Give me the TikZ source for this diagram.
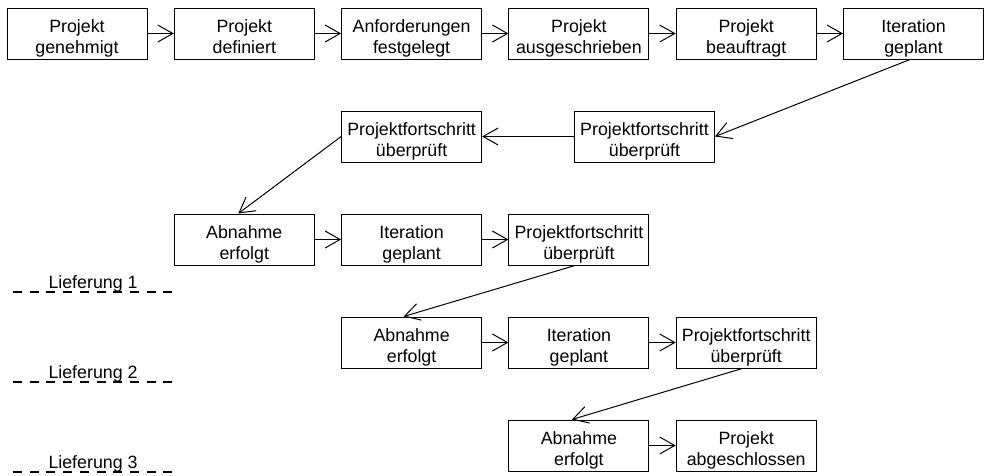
\documentclass[tikz,border=0pt]{standalone}
\usepackage{fontspec}
\setmainfont{Liberation Sans}
\usetikzlibrary{arrows.meta,calc}
\tikzset{
  box/.style={draw, line width=1pt, minimum width=140pt, minimum height=51pt,
    inner sep=0pt, align=center, font=\fontsize{17.8}{21}\selectfont,
    text height=43pt, text depth=4pt},
  conn/.style={line width=1pt, -{Straight Barb[length=15pt,width=17pt,line width=1pt]}},
  deliv/.style={line width=1.3pt, dash pattern=on 9pt off 7.7pt},
  dlabel/.style={anchor=base west, inner sep=0pt, font=\fontsize{17.8}{21}\selectfont}
}
\begin{document}
\begin{tikzpicture}[x=1pt,y=-1pt]
\useasboundingbox (0,0) rectangle (984,475);
% row 1
\node[box] (a1) at (77,33.5) {Projekt\\genehmigt};
\node[box] (a2) at (244.3,33.5) {Projekt\\definiert};
\node[box] (a3) at (411.6,33.5) {Anforderungen\\festgelegt};
\node[box] (a4) at (578.9,33.5) {Projekt\\ausgeschrieben};
\node[box] (a5) at (746.2,33.5) {Projekt\\beauftragt};
\node[box] (a6) at (913.5,33.5) {Iteration\\geplant};
% row 2
\node[box] (b1) at (644.5,136.5) {Projektfortschritt\\überprüft};
\node[box] (b2) at (411.6,136.5) {Projektfortschritt\\überprüft};
% row 3
\node[box] (c1) at (244.3,239.5) {Abnahme\\erfolgt};
\node[box] (c2) at (411.6,239.5) {Iteration\\geplant};
\node[box] (c3) at (578.9,239.5) {Projektfortschritt\\überprüft};
% row 4
\node[box] (d1) at (411.6,342.5) {Abnahme\\erfolgt};
\node[box] (d2) at (578.9,342.5) {Iteration\\geplant};
\node[box] (d3) at (746.2,342.5) {Projektfortschritt\\überprüft};
% row 5
\node[box] (e1) at (578.9,445.5) {Abnahme\\erfolgt};
\node[box] (e2) at (746.2,445.5) {Projekt\\abgeschlossen};
% horizontal connectors
\draw[conn] (a1.east) -- (a2.west);
\draw[conn] (a2.east) -- (a3.west);
\draw[conn] (a3.east) -- (a4.west);
\draw[conn] (a4.east) -- (a5.west);
\draw[conn] (a5.east) -- (a6.west);
\draw[conn] (b1.west) -- (b2.east);
\draw[conn] (c1.east) -- (c2.west);
\draw[conn] (c2.east) -- (c3.west);
\draw[conn] (d1.east) -- (d2.west);
\draw[conn] (d2.east) -- (d3.west);
\draw[conn] (e1.east) -- (e2.west);
% diagonal connectors
\draw[conn] ($(a6.south)+(-3.5,0)$) -- (b1.east);
\draw[conn] (b2.west) -- ($(c1.north)+(-6,0)$);
\draw[conn] ($(c3.south)+(-4,0)$) -- ($(d1.north)+(-8,0)$);
\draw[conn] ($(d3.south)+(-4,0)$) -- ($(e1.north)+(-7,0)$);
% deliveries
\coordinate (l1s) at (13,292); \coordinate (l1e) at (173,292);
\coordinate (l2s) at (13,382); \coordinate (l2e) at (173,382);
\coordinate (l3s) at (13,472); \coordinate (l3e) at (173,472);
\draw[deliv] (l1s) -- (l1e);
\draw[deliv] (l2s) -- (l2e);
\draw[deliv] (l3s) -- (l3e);
\node[dlabel] (l1) at (48.3,288.3) {Lieferung 1};
\node[dlabel] (l2) at (48.3,378.3) {Lieferung 2};
\node[dlabel] (l3) at (48.3,468.3) {Lieferung 3};
\end{tikzpicture}
\end{document}
